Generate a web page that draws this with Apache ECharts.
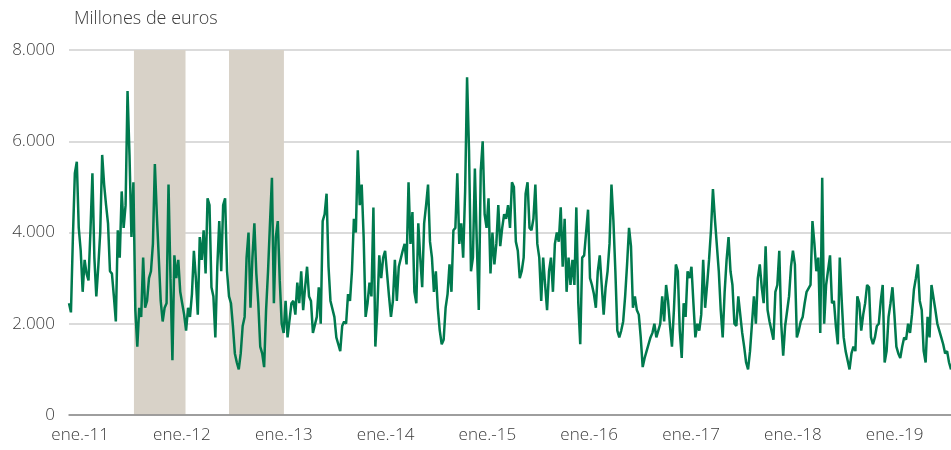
<!DOCTYPE html>
<html>
<head>
<meta charset="utf-8">
<script src="https://cdn.jsdelivr.net/npm/echarts@6/dist/echarts.min.js"></script>
<style>
  html, body { margin: 0; padding: 0; background: #fff; }
  #chart_saldo { width: 951px; height: 450px; }
</style>
</head>
<body>
<div id="chart_saldo"></div>
<script>
// serie semanal, millones de euros
var startDate = '2010-11-22';
var weeklyValues = [
    2450, 2250, 3900, 5300, 5550, 4100, 3600, 2700, 3400, 3100,
    2950, 4050, 5300, 3450, 2600, 3250, 4000, 5700, 5050, 4600,
    4200, 3150, 3100, 2600, 2050, 4050, 3450, 4900, 4100, 4600,
    7100, 5700, 3900, 5100, 2300, 1500, 2350, 2150, 3450, 2350,
    2500, 3000, 3150, 3750, 5500, 4400, 3450, 2500, 2050, 2350,
    2450, 5050, 3000, 1200, 3500, 3000, 3400, 2700, 2450, 2200,
    1850, 2350, 2150, 2650, 3600, 3000, 2200, 3900, 3400, 4050,
    3100, 4750, 4600, 2800, 2600, 1700, 3250, 4250, 3150, 4600,
    4750, 3150, 2600, 2450, 1950, 1350, 1150, 1000, 1350, 1950,
    2150, 3450, 4000, 2350, 3450, 4200, 3100, 2450, 1500, 1350,
    1050, 2300, 3150, 4200, 5200, 2450, 3900, 4250, 2950, 2000,
    1800, 2500, 1700, 1700, 2450, 2500, 2200, 2900, 2450, 3150,
    2300, 2800, 3250, 2600, 2500, 1800, 1800, 2150, 2800, 2000,
    4250, 4400, 4850, 3250, 2500, 2500, 2150, 1700, 1550, 1400,
    1950, 2050, 2000, 2650, 2500, 3150, 4300, 4000, 5800, 4600,
    5050, 3900, 2150, 2450, 2900, 2600, 4550, 1500, 2300, 3500,
    3000, 3450, 3600, 3100, 2600, 2150, 2500, 3400, 2500, 3250,
    3250, 3600, 3750, 3300, 5100, 3750, 4450, 2700, 2450, 4200,
    3450, 2800, 4200, 4600, 5050, 3800, 3450, 2700, 3150, 2350,
    1850, 1550, 1650, 2350, 2650, 3300, 2700, 4050, 4100, 5300,
    3750, 4200, 3450, 4900, 7400, 5800, 3150, 3450, 5400, 3750,
    2300, 5350, 6000, 4400, 4100, 4750, 3100, 4000, 3300, 3750,
    4600, 3700, 4100, 4400, 4300, 4600, 4100, 5100, 5000, 3800,
    3600, 3000, 3150, 3450, 4850, 5100, 4100, 4050, 4300, 5050,
    3750, 3450, 2500, 3450, 2850, 2300, 3150, 3450, 2700, 3750,
    4000, 3800, 4550, 3250, 4300, 2700, 3450, 2850, 3400, 2850,
    4550, 2450, 1550, 3450, 3500, 4000, 4500, 3000, 2850, 2650,
    2350, 3150, 3500, 2850, 2200, 2800, 3150, 3750, 5050, 4250,
    3150, 1850, 1700, 1850, 2050, 2600, 3300, 4100, 3700, 2350,
    2600, 2300, 2200, 1700, 1050, 1250, 1400, 1550, 1700, 1800,
    2000, 1700, 1850, 2000, 2600, 2050, 2850, 2500, 1950, 1500,
    2300, 3300, 3150, 1850, 1250, 2450, 2150, 3150, 3000, 3250,
    2450, 1700, 2000, 1850, 2200, 3400, 2350, 2850, 3400, 4050,
    4950, 4300, 4300, 3150, 2300, 1700, 2700, 3400, 3900, 3150,
    2850, 2000, 1950, 2600, 2600, 1800, 1500, 1150, 1000, 1400,
    2000, 2600, 2000, 3000, 3300, 2800, 2450, 3700, 2300, 2050,
    1850, 1650, 2700, 2850, 3600, 2000, 1300, 1950, 1950, 2600,
    3250, 3600, 3300, 1700, 1850, 2050, 2150, 2450, 2700, 2700,
    2850, 4250, 3750, 3150, 3450, 1800, 5200, 2000, 2850, 2850,
    3500, 2450, 2500, 1950, 1550, 3450, 2500, 1700, 1400, 1200,
    1000, 1350, 1500, 1400, 2600, 2450, 1850, 2200, 2450, 2850,
    2800, 1700, 1550, 1700, 1950, 2000, 2500, 2850, 1150, 1400,
    2150, 2450, 2800, 2200, 1500, 1350, 1250, 1500, 1700, 1650,
    2000, 1800, 2200, 2750, 3000, 3300, 2500, 2300, 1400, 1150,
    2150, 1700, 2850, 2850, 2300, 2000, 1850, 1700, 1550, 1350,
    1400, 1150, 1000
];
// periodos sombreados
var shadeRanges = [
    ['2011-07-13', '2012-01-14'],
    ['2012-06-18', '2013-01-01']
];
var yTicks = [0, 2000, 4000, 6000, 8000];
var monthLabel = 'ene.';

var DAY = 24 * 3600 * 1000;
var t0 = new Date(startDate + 'T00:00:00Z').getTime();

// pares [fecha, valor]
var lineData = [];
for (var i = 0; i < weeklyValues.length; i++) {
    lineData.push([t0 + i * 7 * DAY, weeklyValues[i]]);
}

var myChart_saldo = echarts.init(document.getElementById('chart_saldo'));

var textColor = '#3a3a3a';
var fontName = 'Open Sans';

var option = {
    animation: false,
    title: {
        text: 'Millones de euros',
        left: 74,
        top: 10,
        padding: 0,
        textStyle: { color: textColor, fontFamily: fontName, fontSize: 18, fontWeight: 300 }
    },
    grid: { left: 69, right: 0, top: 50, bottom: 35, containLabel: false },
    xAxis: {
        type: 'time',
        min: t0,
        max: t0 + (weeklyValues.length - 1) * 7 * DAY,
        minInterval: 365 * DAY,
        maxInterval: 366 * DAY,
        axisTick: { show: false },
        splitLine: { show: false },
        axisLine: { show: true, lineStyle: { color: '#8a8a8a', width: 1.5 } },
        axisLabel: {
            color: textColor, fontFamily: fontName, fontSize: 17, fontWeight: 300, margin: 12,
            showMinLabel: false, showMaxLabel: false,
            formatter: function (v) {
                var d = new Date(v);
                if (d.getUTCMonth() !== 0 || d.getUTCDate() !== 1) return '';
                return monthLabel + '-' + String(d.getUTCFullYear()).slice(2);
            }
        },
        z: 5
    },
    yAxis: {
        type: 'value',
        min: yTicks[0],
        max: yTicks[yTicks.length - 1],
        interval: 2000,
        axisLine: { show: false },
        axisTick: { show: false },
        splitLine: { lineStyle: { color: '#cfcfcf', width: 1.5 } },
        axisLabel: {
            color: textColor, fontFamily: fontName, fontSize: 17, fontWeight: 300, margin: 14,
            formatter: function (v) {
                return String(v).replace(/\B(?=(\d{3})+(?!\d))/g, '.');
            }
        }
    },
    series: [{
        type: 'line',
        data: lineData,
        showSymbol: false,
        lineStyle: { color: '#007a4e', width: 2.5 },
        markArea: {
            silent: true,
            itemStyle: { color: '#d8d2c8' },
            data: shadeRanges.map(function (r) {
                return [{ xAxis: r[0] }, { xAxis: r[1] }];
            })
        }
    }]
};

myChart_saldo.setOption(option);
</script>
</body>
</html>
